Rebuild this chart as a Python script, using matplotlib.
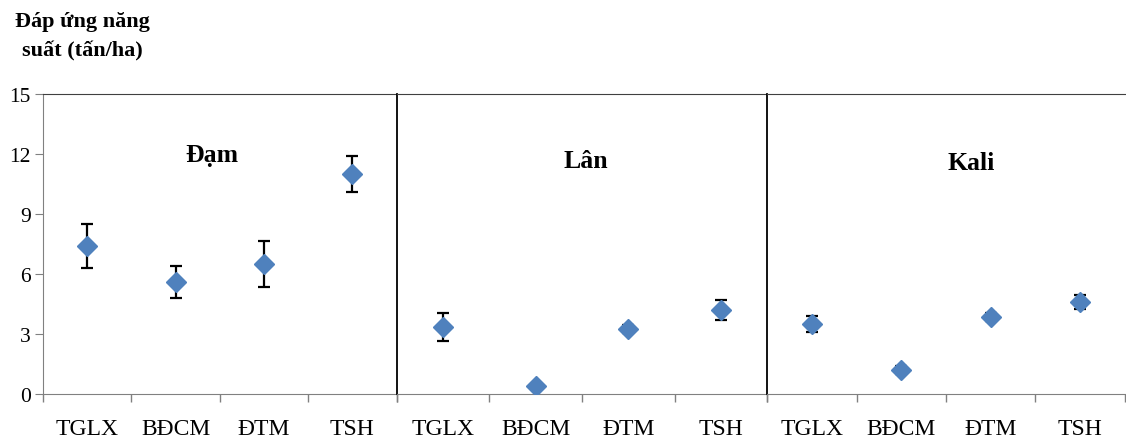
import matplotlib.pyplot as plt

plt.rcParams["font.family"] = ["Liberation Serif", "DejaVu Serif"]

# danh mục và số liệu (tấn/ha)
cats = ["TGLX", "BĐCM", "ĐTM", "TSH"]
panels = ["Đạm", "Lân", "Kali"]
dam = [7.4, 5.6, 6.5, 11.0]
dam_err = [1.1, 0.8, 1.15, 0.9]
lan = [3.35, 0.4, 3.25, 4.2]
lan_err = [0.7, 0.1, 0.2, 0.5]
kali = [3.5, 1.2, 3.85, 4.6]
kali_err = [0.4, 0.2, 0.2, 0.35]

values = [dam, lan, kali]
errors = [dam_err, lan_err, kali_err]
# vị trí chữ tiêu đề trong từng ô
title_x = [1.41, 1.54, 1.78]
title_y = [11.65, 11.35, 11.25]

fig, axes = plt.subplots(1, 3, figsize=(11.26, 4.39), dpi=100, sharey=True,
                         gridspec_kw={"width_ratios": [354, 371, 358], "wspace": 0})
fig.subplots_adjust(left=0.0382, right=0.999, bottom=0.1002, top=0.7836)

x = list(range(len(cats)))
for i, ax in enumerate(axes):
    ax.errorbar(x, values[i], yerr=errors[i], fmt="D", color="#4F81BD",
                markersize=10, ecolor="black", elinewidth=1.6, capsize=4,
                capthick=1.6, zorder=3)
    ax.text(title_x[i], title_y[i], panels[i], ha="center", va="baseline",
            fontsize=18.5, fontweight="bold")
    ax.set_xlim(-0.5, 3.5)
    ax.set_ylim(0, 15)
    ax.set_xticks(x)
    ax.set_xticklabels(cats, fontsize=17)
    ax.set_xticks([-0.5, 0.5, 1.5, 2.5, 3.5], minor=True)
    ax.tick_params(axis="x", which="major", length=0, pad=17)
    ax.tick_params(axis="x", which="minor", length=6, width=1, color="#808080")
    ax.spines["right"].set_visible(False)
    ax.spines["top"].set_color("#404040")
    ax.spines["bottom"].set_color("#808080")
    if i == 0:
        ax.spines["left"].set_color("#808080")
        ax.set_yticks([0, 3, 6, 9, 12, 15])
        ax.tick_params(axis="y", length=6, color="#808080", labelsize=15.5, pad=3)
    else:
        ax.spines["left"].set_color("black")
        ax.spines["left"].set_linewidth(1.3)
        ax.tick_params(axis="y", left=False, labelleft=False)

fig.text(0.073, 0.916, "Đáp ứng năng\nsuất (tấn/ha)", ha="center", va="center",
         fontsize=16, fontweight="bold", linespacing=1.6)

fig.savefig("out.png", dpi=100)
